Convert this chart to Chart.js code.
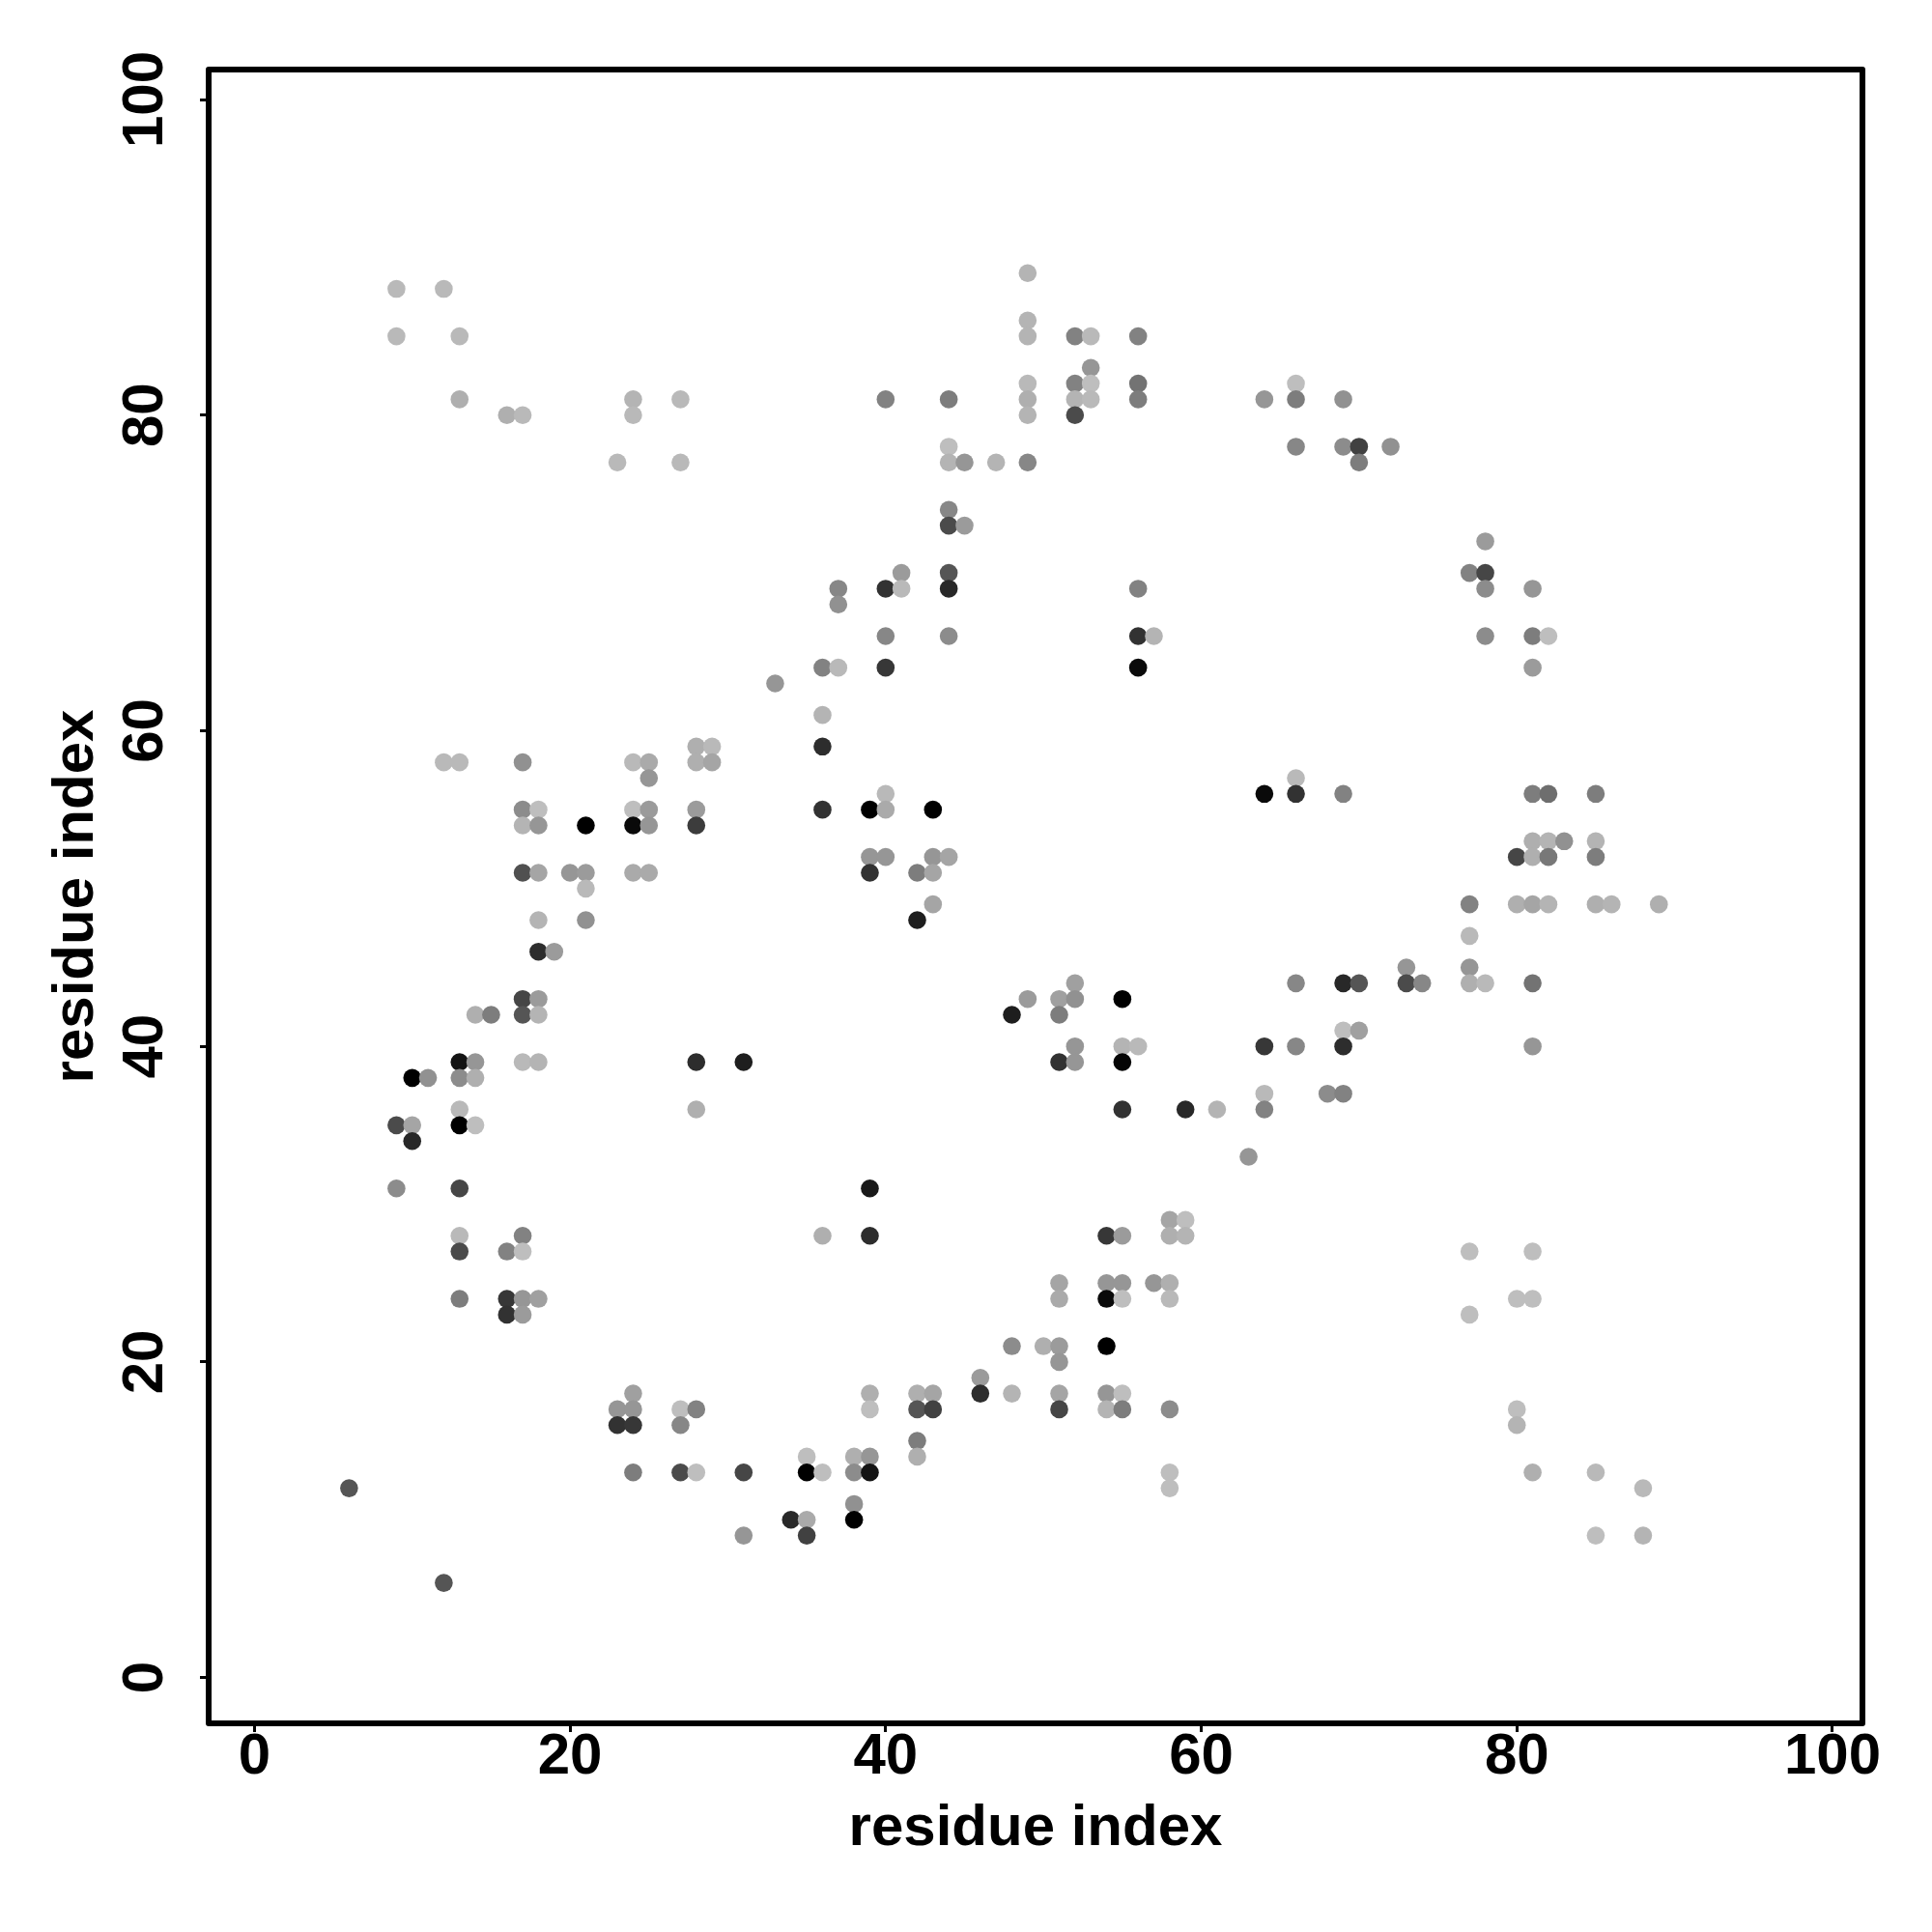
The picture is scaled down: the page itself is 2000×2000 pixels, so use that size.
<!DOCTYPE html>
<html>
<head>
<meta charset="utf-8">
<title>residue contacts</title>
<script src="https://cdn.jsdelivr.net/npm/chart.js@4/dist/chart.umd.min.js"></script>
<style>
    html, body { margin: 0; padding: 0; background: #fff; }
    canvas { display: block; }
</style>
</head>
<body>
<canvas id="grafico" width="2000" height="2000"></canvas>
<script>
// Valores, una linea por cada residuo del eje x
const residueX = [
    6,
    9, 9, 9, 9,
    10, 10, 10,
    11,
    12, 12, 12,
    13, 13, 13, 13, 13, 13, 13, 13, 13, 13, 13,
    14, 14, 14, 14,
    15,
    16, 16, 16, 16,
    17, 17, 17, 17, 17, 17, 17, 17, 17, 17, 17, 17,
    18, 18, 18, 18, 18, 18, 18, 18, 18,
    19,
    20,
    21, 21, 21, 21,
    23, 23, 23,
    24, 24, 24, 24, 24, 24, 24, 24, 24, 24,
    25, 25, 25, 25, 25,
    27, 27, 27, 27, 27,
    28, 28, 28, 28, 28, 28, 28, 28,
    29, 29,
    31, 31, 31,
    33,
    34,
    35, 35, 35, 35,
    36, 36, 36, 36, 36, 36,
    37, 37, 37,
    38, 38, 38, 38,
    39, 39, 39, 39, 39, 39, 39, 39, 39,
    40, 40, 40, 40, 40, 40, 40,
    41, 41,
    42, 42, 42, 42, 42, 42,
    43, 43, 43, 43, 43, 43,
    44, 44, 44, 44, 44, 44, 44, 44, 44,
    45, 45,
    46, 46,
    47,
    48, 48, 48,
    49, 49, 49, 49, 49, 49, 49, 49,
    50,
    51, 51, 51, 51, 51, 51, 51, 51, 51,
    52, 52, 52, 52, 52, 52, 52, 52,
    53, 53, 53, 53,
    54, 54, 54, 54, 54, 54,
    55, 55, 55, 55, 55, 55, 55, 55, 55,
    56, 56, 56, 56, 56, 56, 56,
    57, 57,
    58, 58, 58, 58, 58, 58, 58,
    59, 59, 59,
    61,
    63,
    64, 64, 64, 64, 64,
    66, 66, 66, 66, 66, 66, 66,
    68,
    69, 69, 69, 69, 69, 69, 69,
    70, 70, 70, 70,
    72,
    73, 73,
    74,
    77, 77, 77, 77, 77, 77, 77,
    78, 78, 78, 78, 78,
    80, 80, 80, 80, 80,
    81, 81, 81, 81, 81, 81, 81, 81, 81, 81, 81, 81,
    82, 82, 82, 82, 82,
    83,
    85, 85, 85, 85, 85, 85,
    86,
    88, 88,
    89
];
const residueY = [
    12,
    88, 85, 35, 31,
    38, 35, 34,
    38,
    88, 58, 6,
    85, 81, 58, 39, 38, 36, 35, 31, 28, 27, 24,
    42, 39, 38, 35,
    42,
    80, 27, 24, 23,
    80, 58, 55, 54, 51, 43, 42, 39, 28, 27, 24, 23,
    55, 54, 51, 48, 46, 43, 42, 39, 24,
    46,
    51,
    54, 51, 50, 48,
    77, 17, 16,
    81, 80, 58, 55, 54, 51, 18, 17, 16, 13,
    58, 57, 55, 54, 51,
    81, 77, 17, 16, 13,
    59, 58, 55, 54, 39, 36, 17, 13,
    59, 58,
    39, 13, 9,
    63,
    10,
    14, 13, 10, 9,
    64, 61, 59, 55, 28, 13,
    69, 68, 64,
    14, 13, 11, 10,
    55, 52, 51, 31, 28, 18, 17, 14, 13,
    81, 69, 66, 64, 56, 55, 52,
    70, 69,
    51, 48, 18, 17, 15, 14,
    55, 52, 51, 49, 18, 17,
    81, 78, 77, 74, 73, 70, 69, 66, 52,
    77, 73,
    19, 18,
    77,
    42, 21, 18,
    89, 86, 85, 82, 81, 80, 77, 43,
    21,
    43, 42, 39, 25, 24, 21, 20, 18, 17,
    85, 82, 81, 80, 44, 43, 40, 39,
    85, 83, 82, 81,
    28, 25, 24, 21, 18, 17,
    43, 40, 39, 36, 28, 25, 24, 18, 17,
    85, 82, 81, 69, 66, 64, 40,
    66, 25,
    29, 28, 25, 24, 17, 13, 12,
    36, 29, 28,
    36,
    33,
    81, 56, 40, 37, 36,
    82, 81, 78, 57, 56, 44, 40,
    37,
    81, 78, 56, 44, 41, 40, 37,
    78, 77, 44, 41,
    78,
    45, 44,
    44,
    70, 49, 47, 45, 44, 27, 23,
    72, 70, 69, 66, 44,
    52, 49, 24, 17, 16,
    69, 66, 64, 56, 53, 52, 49, 44, 40, 27, 24, 13,
    66, 56, 53, 52, 49,
    53,
    56, 53, 52, 49, 13, 9,
    49,
    12, 9,
    49
];
// Intensidad de cada punto en escala de gris (0 = negro)
const shade = [
    85,
    185, 185, 75, 140,
    0, 165, 40,
    145,
    185, 185, 85,
    185, 175, 185, 20, 140, 185, 0, 70, 185, 75, 125,
    175, 150, 175, 190,
    125,
    175, 130, 55, 50,
    185, 145, 140, 180, 80, 70, 85, 185, 130, 190, 150, 155,
    190, 150, 165, 180, 45, 155, 180, 180, 160,
    155,
    150,
    0, 155, 185, 145,
    185, 150, 50,
    180, 185, 185, 190, 10, 170, 160, 150, 55, 125,
    170, 150, 155, 150, 170,
    185, 185, 190, 135, 75,
    175, 175, 155, 60, 45, 175, 130, 190,
    185, 165,
    30, 70, 150,
    150,
    40,
    190, 0, 170, 65,
    130, 180, 45, 50, 175, 190,
    135, 145, 185,
    175, 140, 145, 0,
    0, 150, 50, 25, 45, 175, 190, 150, 20,
    130, 50, 135, 55, 185, 170, 150,
    155, 185,
    125, 30, 175, 85, 125, 175,
    0, 150, 165, 165, 165, 65,
    125, 190, 180, 135, 75, 85, 40, 140, 165,
    150, 155,
    155, 45,
    180,
    30, 140, 180,
    180, 180, 180, 185, 175, 180, 135, 155,
    175,
    160, 125, 50, 165, 170, 155, 150, 165, 70,
    130, 130, 180, 75, 160, 145, 150, 150,
    185, 150, 190, 185,
    55, 150, 10, 0, 150, 180,
    0, 180, 5, 50, 155, 150, 190, 190, 125,
    130, 115, 125, 130, 50, 10, 185,
    180, 150,
    165, 175, 175, 185, 140, 190, 190,
    40, 190, 180,
    180,
    150,
    150, 10, 55, 185, 130,
    190, 125, 135, 185, 50, 135, 135,
    140,
    145, 140, 130, 40, 190, 45, 130,
    65, 125, 85, 160,
    145,
    150, 75,
    135,
    130, 130, 185, 150, 175, 190, 190,
    155, 70, 140, 140, 185,
    70, 175, 190, 190, 180,
    150, 125, 155, 125, 175, 175, 165, 115, 150, 190, 190, 175,
    190, 110, 180, 120, 180,
    145,
    125, 180, 125, 175, 185, 190,
    180,
    185, 180,
    175
];
const axisTicks = [0, 20, 40, 60, 80, 100];
const axisTitle = "residue index";

const fuente = { family: "'Liberation Sans'", size: 60, weight: "bold" };

// Marco completo alrededor del area de la grafica
const marco = {
    id: "marco",
    afterDraw(chart) {
        const { ctx, chartArea: a } = chart;
        ctx.save();
        ctx.strokeStyle = "#000";
        ctx.lineWidth = 6;
        ctx.lineJoin = "round";
        ctx.strokeRect(a.left, a.top, a.right - a.left, a.bottom - a.top);
        ctx.restore();
    }
};

const puntos = residueX.map((x, i) => ({ x: x, y: residueY[i] }));

new Chart(document.getElementById("grafico"), {
    type: "scatter",
    data: {
        datasets: [{
            data: puntos,
            showLine: false,
            pointRadius: 9.3,
            pointBorderWidth: 0,
            pointBackgroundColor: shade.map(v => `rgb(${v},${v},${v})`)
        }]
    },
    options: {
        responsive: false,
        animation: false,
        layout: { padding: { top: 72, right: 72, left: 0, bottom: 0 } },
        plugins: { legend: { display: false }, tooltip: { enabled: false } },
        scales: {
            x: {
                type: "linear",
                min: -2.9,
                max: 101.9,
                afterBuildTicks: s => { s.ticks = axisTicks.map(v => ({ value: v })); },
                afterFit: s => { s.height = 216; },
                border: { display: false },
                grid: { drawOnChartArea: false, tickLength: 9, tickWidth: 3, tickColor: "#000" },
                ticks: { color: "#000", font: fuente, padding: -10, maxRotation: 0, autoSkip: false },
                title: { display: true, text: axisTitle, color: "#000", font: fuente, padding: { top: 0, bottom: 71 } }
            },
            y: {
                type: "linear",
                min: -2.9,
                max: 101.9,
                afterBuildTicks: s => { s.ticks = axisTicks.map(v => ({ value: v })); },
                afterFit: s => { s.width = 216; },
                border: { display: false },
                grid: { drawOnChartArea: false, tickLength: 9, tickWidth: 3, tickColor: "#000" },
                ticks: { color: "#000", font: fuente, padding: 5, minRotation: 90, maxRotation: 90, crossAlign: "center", autoSkip: false },
                title: { display: true, text: axisTitle, color: "#000", font: fuente, padding: { top: 43, bottom: 0 } }
            }
        }
    },
    plugins: [marco]
});
</script>
</body>
</html>
